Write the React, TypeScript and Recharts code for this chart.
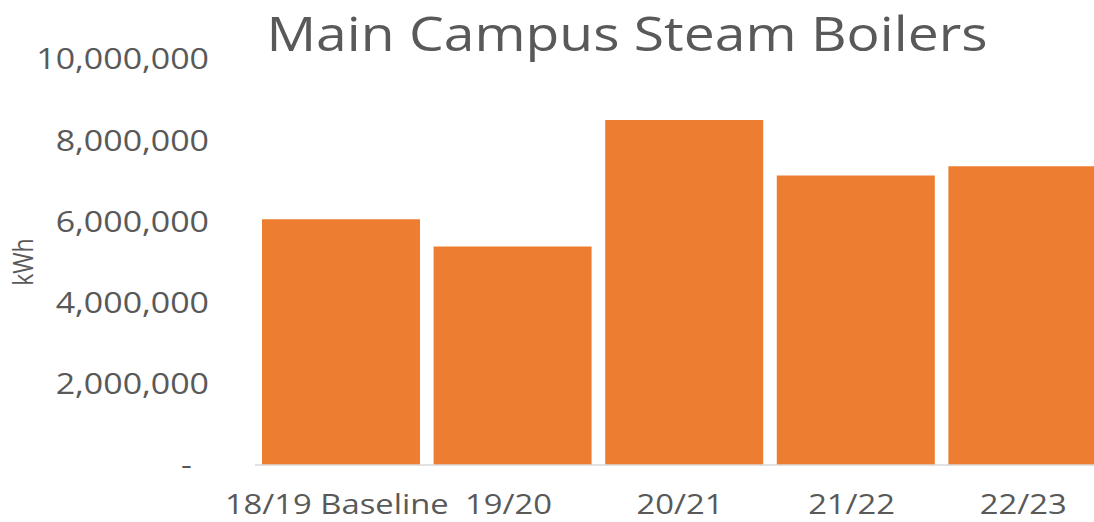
import React from 'react';
import { BarChart, Bar, XAxis, YAxis } from 'recharts';

const categories = ['18/19 Baseline', '19/20', '20/21', '21/22', '22/23'];
const steamKWh = [6050000, 5380000, 8500000, 7130000, 7360000];
const yTicks = [0, 2000000, 4000000, 6000000, 8000000, 10000000];
const title = 'Main Campus Steam Boilers';
const yLabel = 'kWh';

const data = categories.map((c, i) => ({ name: c, value: steamKWh[i] }));

const FONT = '"Open Sans", sans-serif';
const TEXT = '#595959';
const SX = 1.17;

const fmt = (v: number) => (v === 0 ? '-' : v.toLocaleString('en-US'));

const YTick = (props: any) => {
  const { x, y, payload } = props;
  const v = payload.value as number;
  const dx = v === 0 ? -17 : 0;
  return (
    <g transform={`translate(${x + dx},${y}) scale(${SX},1)`}>
      <text x={0} y={0} dy="0.36em" textAnchor="end" fill={TEXT} fontFamily={FONT} fontSize={29}>
        {fmt(v)}
      </text>
    </g>
  );
};

const XTick = (props: any) => {
  const { x, y, payload } = props;
  return (
    <g transform={`translate(${x - 4},${y + 49}) scale(${SX},1)`}>
      <text x={0} y={0} textAnchor="middle" fill={TEXT} fontFamily={FONT} fontSize={28}>
        {payload.value}
      </text>
    </g>
  );
};

export default function App() {
  return (
    <div style={{ position: 'absolute', left: 0, top: 0, width: 1094, height: 522, overflow: 'hidden', background: '#fff' }}>
      <BarChart
        width={1113}
        height={522}
        data={data}
        margin={{ top: 59, right: 0, bottom: 0, left: 0 }}
        barCategoryGap={7}
      >
        <XAxis
          dataKey="name"
          height={57}
          tickLine={false}
          tickSize={0}
          tickMargin={0}
          axisLine={{ stroke: '#d9d9d9', strokeWidth: 1.5 }}
          tick={<XTick />}
          interval={0}
        />
        <YAxis
          width={255}
          domain={[0, 10000000]}
          ticks={yTicks}
          axisLine={false}
          tickLine={false}
          tickSize={0}
          tickMargin={46}
          tick={<YTick />}
          interval={0}
        />
        <Bar dataKey="value" fill="#ED7D31" isAnimationActive={false} />
      </BarChart>
      <svg width={1094} height={522} style={{ position: 'absolute', left: 0, top: 0, pointerEvents: 'none' }}>
        <g transform={`translate(627,51) scale(1.175,1)`}>
          <text x={0} y={0} textAnchor="middle" fill={TEXT} fontFamily={FONT} fontSize={47}>
            {title}
          </text>
        </g>
        <g transform={`translate(33,262) scale(1.17,1) rotate(-90)`}>
          <text x={0} y={0} textAnchor="middle" fill={TEXT} fontFamily={FONT} fontSize={23}>
            {yLabel}
          </text>
        </g>
      </svg>
    </div>
  );
}
